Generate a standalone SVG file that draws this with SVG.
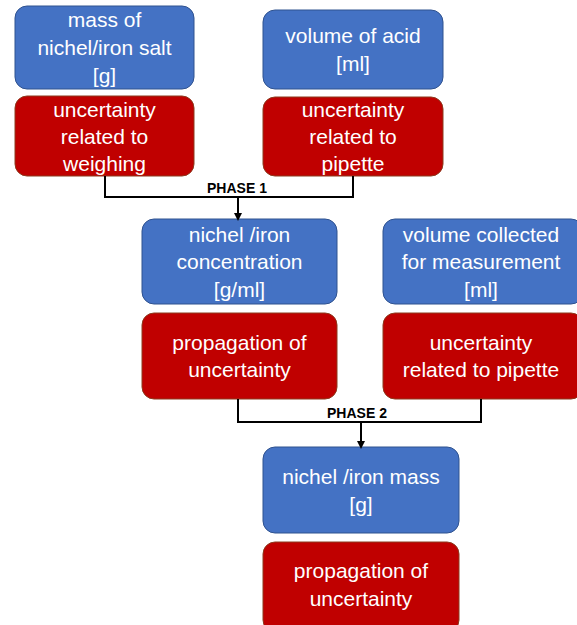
<svg xmlns="http://www.w3.org/2000/svg" width="577" height="625" viewBox="0 0 577 625">
<defs>
<style>
.b{fill:#4472C4;stroke:#2F528F;stroke-width:1}
.r{fill:#C00000;stroke:#8C3A1E;stroke-width:1}
.t{fill:#fff;font-family:"Liberation Sans",Arial,sans-serif;font-size:21px;text-anchor:middle}
.p{fill:#000;font-family:"Liberation Sans",Arial,sans-serif;font-size:14px;font-weight:bold;text-anchor:middle}
.c{fill:none;stroke:#000;stroke-width:2}
</style>
<marker id="ah" markerWidth="8" markerHeight="8" refX="4" refY="4" orient="auto" markerUnits="userSpaceOnUse">
<path d="M0,0 L8,4 L0,8 z" fill="#000"/>
</marker>
</defs>
<rect width="577" height="625" fill="#fff"/>
<g id="mass">
<rect class="b" x="15" y="6" width="179" height="83" rx="12"/>
<text class="t" x="104.5" y="27">mass of</text>
<text class="t" x="104.5" y="55">nichel/iron salt</text>
<text class="t" x="104.5" y="83">[g]</text>
</g>
<g id="unc-weigh">
<rect class="r" x="15" y="96" width="179" height="80" rx="12"/>
<text class="t" x="104.5" y="117">uncertainty</text>
<text class="t" x="104.5" y="144">related to</text>
<text class="t" x="104.5" y="171">weighing</text>
</g>
<g id="vol-acid">
<rect class="b" x="263" y="10" width="180" height="79" rx="12"/>
<text class="t" x="353" y="43">volume of acid</text>
<text class="t" x="353" y="71">[ml]</text>
</g>
<g id="unc-pip1">
<rect class="r" x="263" y="97" width="180" height="79" rx="12"/>
<text class="t" x="353" y="117">uncertainty</text>
<text class="t" x="353" y="144">related to</text>
<text class="t" x="353" y="171">pipette</text>
</g>
<g id="conc">
<rect class="b" x="142" y="219" width="195" height="85" rx="12"/>
<text class="t" x="239.5" y="242">nichel /iron</text>
<text class="t" x="239.5" y="269">concentration</text>
<text class="t" x="239.5" y="297">[g/ml]</text>
</g>
<g id="vol-coll">
<rect class="b" x="383" y="219" width="200" height="85" rx="12"/>
<text class="t" x="481" y="242">volume collected</text>
<text class="t" x="481" y="269">for measurement</text>
<text class="t" x="481" y="297">[ml]</text>
</g>
<g id="prop1">
<rect class="r" x="142" y="313" width="195" height="86" rx="12"/>
<text class="t" x="239.5" y="350">propagation of</text>
<text class="t" x="239.5" y="377">uncertainty</text>
</g>
<g id="unc-pip2">
<rect class="r" x="383" y="313" width="200" height="86" rx="12"/>
<text class="t" x="481" y="350">uncertainty</text>
<text class="t" x="481" y="377">related to pipette</text>
</g>
<g id="mass-out">
<rect class="b" x="263" y="447" width="196" height="86" rx="12"/>
<text class="t" x="361" y="484">nichel /iron mass</text>
<text class="t" x="361" y="512">[g]</text>
</g>
<g id="prop2">
<rect class="r" x="263" y="542" width="196" height="90" rx="12"/>
<text class="t" x="361" y="578">propagation of</text>
<text class="t" x="361" y="606">uncertainty</text>
</g>
<g id="connectors">
<path class="c" d="M105,176 V197 H353 V176"/>
<path class="c" d="M238,197 V217" marker-end="url(#ah)"/>
<text class="p" x="237" y="193">PHASE 1</text>
<path class="c" d="M238,399 V422 H481 V399"/>
<path class="c" d="M361,422 V445" marker-end="url(#ah)"/>
<text class="p" x="357" y="418">PHASE 2</text>
</g>
</svg>
